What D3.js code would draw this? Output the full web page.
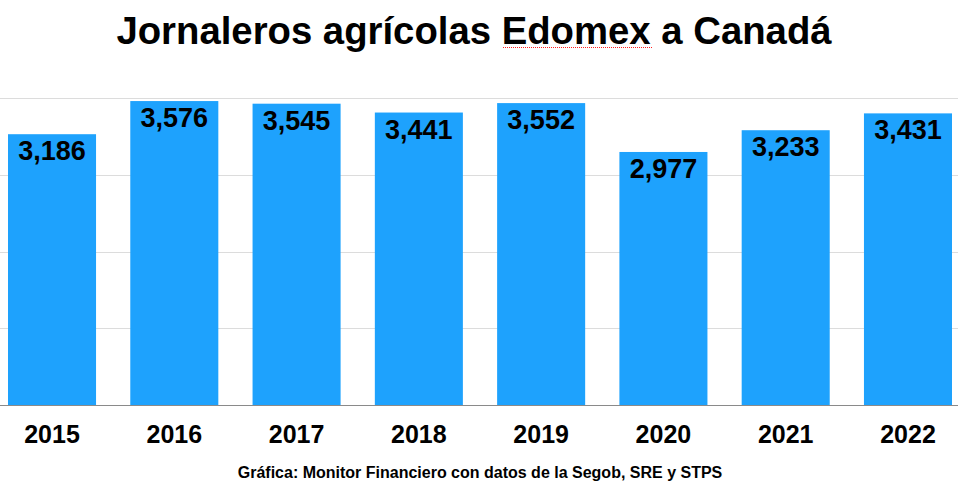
<!DOCTYPE html>
<html>
<head>
<meta charset="utf-8">
<script src="https://cdn.jsdelivr.net/npm/d3@7"></script>
<style>
  html, body { margin: 0; padding: 0; background: #fff; }
  svg { display: block; font-family: "Liberation Sans", Arial, sans-serif; }
</style>
</head>
<body>
<svg id="chart" width="958" height="500"></svg>
<script>
const years = ["2015", "2016", "2017", "2018", "2019", "2020", "2021", "2022"];
const values = [3186, 3576, 3545, 3441, 3552, 2977, 3233, 3431];
const gridValues = [903, 1806, 2709, 3612];
const titleText = "Jornaleros agrícolas Edomex a Canadá";
const sourceText = "Gráfica: Monitor Financiero con datos de la Segob, SRE y STPS";

const svg = d3.select("#chart");
const W = 958, H = 500;
const baseY = 405, topY = 98;

const x = d3.scaleBand().domain(years).range([8, 952]).paddingInner(0.28).paddingOuter(0);
const y = d3.scaleLinear().domain([0, 3612]).range([baseY, topY]);

// gridlines
svg.append("g").selectAll("line").data(gridValues).join("line")
  .attr("x1", 0).attr("x2", W)
  .attr("y1", d => Math.round(y(d)) + 0.5).attr("y2", d => Math.round(y(d)) + 0.5)
  .attr("stroke", "#dcdcdc").attr("stroke-width", 1);

// bars
svg.append("g").selectAll("rect").data(values).join("rect")
  .attr("x", (d, i) => x(years[i]))
  .attr("width", x.bandwidth())
  .attr("y", d => y(d))
  .attr("height", d => baseY - y(d))
  .attr("fill", "#1ea2fd");

// baseline
svg.append("line").attr("x1", 0).attr("x2", W)
  .attr("y1", baseY + 0.5).attr("y2", baseY + 0.5)
  .attr("stroke", "#8a8a8a").attr("stroke-width", 1);

// value labels
const fmt = d3.format(",");
svg.append("g").selectAll("text").data(values).join("text")
  .attr("x", (d, i) => x(years[i]) + x.bandwidth() / 2)
  .attr("y", d => y(d) + 26)
  .attr("text-anchor", "middle")
  .attr("font-weight", "bold").attr("font-size", 27)
  .attr("fill", "#000")
  .text(d => fmt(d));

// x axis labels
const xAxis = d3.axisBottom(x).tickSize(0).tickPadding(0);
const gx = svg.append("g").attr("transform", `translate(0,${baseY})`).call(xAxis);
gx.select(".domain").remove();
gx.selectAll("text")
  .attr("y", 38).attr("dy", null)
  .attr("font-family", "Liberation Sans, Arial, sans-serif")
  .attr("font-weight", "bold").attr("font-size", 25).attr("fill", "#000");

// title
svg.append("text").attr("x", 474).attr("y", 44)
  .attr("text-anchor", "middle").attr("font-weight", "bold").attr("font-size", 38.3)
  .attr("fill", "#000").text(titleText);

// spell-check dotted underline under "Edomex"
svg.append("line").attr("x1", 503).attr("x2", 652).attr("y1", 47.5).attr("y2", 47.5)
  .attr("stroke", "#ff2020").attr("stroke-width", 1).attr("stroke-dasharray", "1,1");

// source
svg.append("text").attr("x", 480).attr("y", 478)
  .attr("text-anchor", "middle").attr("font-weight", "bold").attr("font-size", 16)
  .attr("fill", "#000").text(sourceText);
</script>
</body>
</html>
